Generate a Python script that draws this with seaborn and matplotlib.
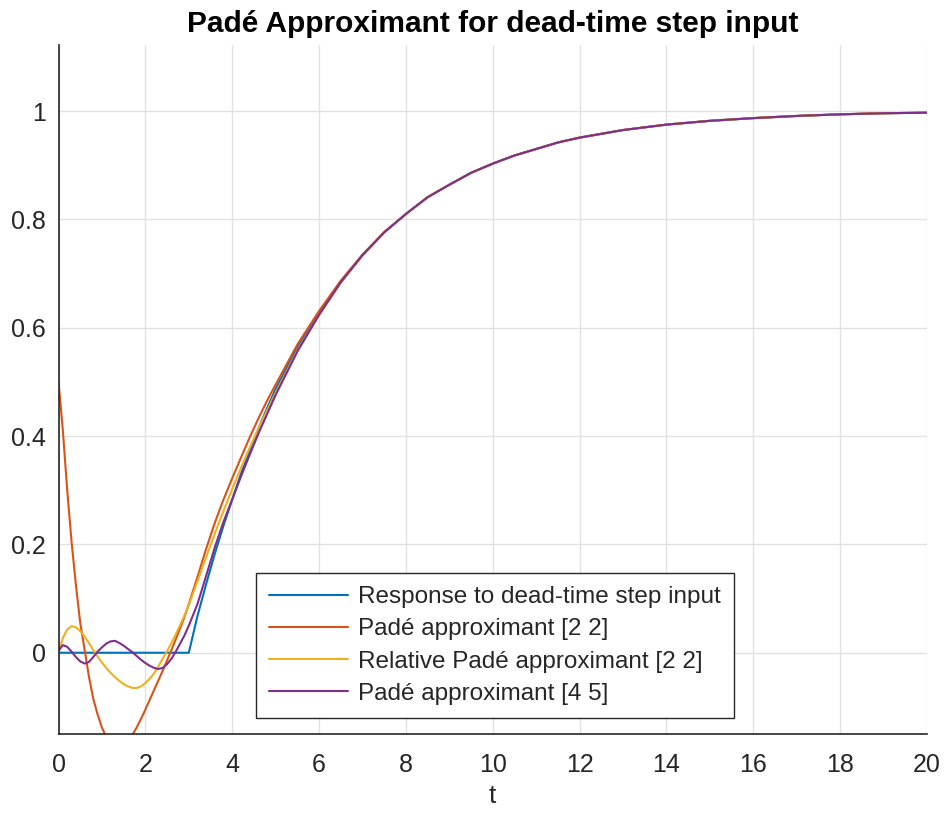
import numpy as np
import pandas as pd
import matplotlib
matplotlib.use("Agg")
import matplotlib.pyplot as plt
import seaborn as sns

# ---- data ----
t_vals = [0.0, 0.1, 0.2, 0.3, 0.4, 0.5, 0.6, 0.7, 0.8, 0.9,
          1.0, 1.1, 1.2, 1.3, 1.4, 1.5, 1.6, 1.7, 1.8, 1.9,
          2.0, 2.1, 2.2, 2.3, 2.4, 2.5, 2.6, 2.7, 2.8, 2.9,
          3.0, 3.2, 3.4, 3.6, 3.8, 4.0, 4.2, 4.4, 4.6, 4.8,
          5.0, 5.5, 6.0, 6.5, 7.0, 7.5, 8.0, 8.5, 9.0, 9.5,
          10.0, 10.5, 11.0, 11.5, 12.0, 13.0, 14.0, 15.0, 16.0, 17.0,
          18.0, 19.0, 20.0]

response_dead_time = [0.0, 0.0, 0.0, 0.0, 0.0, 0.0, 0.0, 0.0, 0.0, 0.0,
                      0.0, 0.0, 0.0, 0.0, 0.0, 0.0, 0.0, 0.0, 0.0, 0.0,
                      0.0, 0.0, 0.0, 0.0, 0.0, 0.0, 0.0, 0.0, 0.0, 0.0,
                      0.0, 0.068, 0.127, 0.183, 0.235, 0.283, 0.330, 0.373, 0.413, 0.451,
                      0.487, 0.564, 0.628, 0.685, 0.734, 0.776, 0.810, 0.841, 0.864, 0.886,
                      0.903, 0.918, 0.930, 0.942, 0.951, 0.965, 0.975, 0.982, 0.987, 0.991,
                      0.994, 0.996, 0.997]

pade_22 = [0.500, 0.410, 0.300, 0.205, 0.125, 0.055, 0.006, -0.044, -0.085, -0.114,
           -0.138, -0.156, -0.168, -0.175, -0.177, -0.173, -0.164, -0.152, -0.138, -0.122,
           -0.105, -0.087, -0.069, -0.051, -0.033, -0.014, 0.005, 0.025, 0.045, 0.066,
           0.090, 0.140, 0.192, 0.240, 0.283, 0.322, 0.360, 0.397, 0.432, 0.465,
           0.495, 0.569, 0.631, 0.687, 0.735, 0.777, 0.810, 0.841, 0.864, 0.886,
           0.903, 0.918, 0.930, 0.942, 0.951, 0.965, 0.975, 0.982, 0.987, 0.991,
           0.994, 0.996, 0.997]

rel_pade_22 = [0.000, 0.027, 0.043, 0.049, 0.047, 0.040, 0.030, 0.018, 0.005, -0.007,
               -0.018, -0.028, -0.037, -0.045, -0.052, -0.058, -0.062, -0.065, -0.065, -0.062,
               -0.056, -0.048, -0.038, -0.025, -0.011, 0.003, 0.018, 0.034, 0.051, 0.069,
               0.088, 0.132, 0.177, 0.220, 0.262, 0.302, 0.341, 0.378, 0.413, 0.447,
               0.480, 0.558, 0.623, 0.683, 0.733, 0.776, 0.810, 0.841, 0.864, 0.886,
               0.903, 0.918, 0.930, 0.942, 0.951, 0.965, 0.975, 0.982, 0.987, 0.991,
               0.994, 0.996, 0.997]

pade_45 = [0.004, 0.014, 0.011, 0.002, -0.008, -0.016, -0.020, -0.017, -0.008, 0.002,
           0.010, 0.017, 0.021, 0.022, 0.018, 0.013, 0.007, 0.001, -0.006, -0.013,
           -0.019, -0.024, -0.028, -0.030, -0.028, -0.021, -0.011, 0.002, 0.017, 0.032,
           0.050, 0.090, 0.142, 0.195, 0.242, 0.283, 0.325, 0.365, 0.404, 0.440,
           0.476, 0.556, 0.624, 0.684, 0.734, 0.776, 0.810, 0.841, 0.864, 0.886,
           0.903, 0.918, 0.930, 0.942, 0.951, 0.965, 0.975, 0.982, 0.987, 0.991,
           0.994, 0.996, 0.997]

labels = ["Response to dead-time step input",
          "Padé approximant [2 2]",
          "Relative Padé approximant [2 2]",
          "Padé approximant [4 5]"]
colors = ["#0072BD", "#D95319", "#EDB120", "#7E2F8E"]
x_ticks = [0, 2, 4, 6, 8, 10, 12, 14, 16, 18, 20]
y_ticks = [0, 0.2, 0.4, 0.6, 0.8, 1.0]
y_tick_labels = ["0", "0.2", "0.4", "0.6", "0.8", "1"]

# ---- plotting ----
sns.set_theme(style="white")
plt.rcParams["font.family"] = ["Liberation Sans", "DejaVu Sans"]

fig = plt.figure(figsize=(9.44, 8.15), dpi=100)
ax = fig.add_axes([0.062, 0.0994, 0.920, 0.8454])

series = [response_dead_time, pade_22, rel_pade_22, pade_45]
for vals, lab, col in zip(series, labels, colors):
    df = pd.DataFrame({"t": t_vals, "y": vals})
    sns.lineplot(data=df, x="t", y="y", ax=ax, color=col, label=lab,
                 linewidth=1.5, sort=False, estimator=None)

ax.set_xlim(0, 20)
ax.set_ylim(-0.15, 1.122)
ax.set_xticks(x_ticks)
ax.set_xticklabels([str(v) for v in x_ticks])
ax.set_yticks(y_ticks)
ax.set_yticklabels(y_tick_labels)

ax.grid(True, color="#e2e2e2", linewidth=1.0)
ax.set_axisbelow(True)
for side in ["top", "right"]:
    ax.spines[side].set_visible(False)
for side in ["left", "bottom"]:
    ax.spines[side].set_color("#262626")
    ax.spines[side].set_linewidth(1.2)

ax.tick_params(axis="both", direction="in", length=5, width=1.0,
               colors="#262626", labelsize=18, labelcolor="#262626")
ax.tick_params(axis="x", pad=14)
ax.tick_params(axis="y", pad=9)

ax.set_xlabel("t", fontsize=19, color="#262626", labelpad=5)
ax.set_ylabel("")
ax.set_title("Padé Approximant for dead-time step input", fontsize=21.5,
             fontweight="bold", color="black", pad=9)

leg = ax.legend(loc="lower left", bbox_to_anchor=(0.227, 0.023), fontsize=17.5,
                frameon=True, fancybox=False, framealpha=1, edgecolor="#262626",
                handlelength=3.25, handletextpad=0.42, borderpad=0.55, labelspacing=0.42,
                borderaxespad=0)
leg.get_frame().set_linewidth(1.0)

fig.savefig("out.png", dpi=100)
